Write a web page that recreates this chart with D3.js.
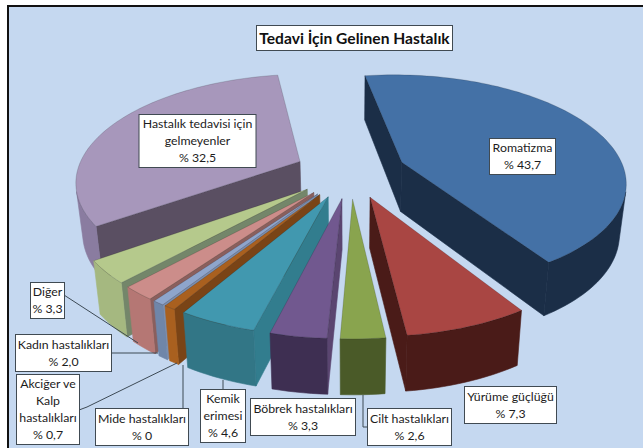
<!DOCTYPE html>
<html><head><meta charset="utf-8">
<script src="https://cdn.jsdelivr.net/npm/d3@7/dist/d3.min.js"></script>
<style>html,body{margin:0;padding:0;background:#fff}svg{display:block}</style>
</head><body><script>
const categories = ["Romatizma","Yürüme güçlüğü","Cilt hastalıkları","Böbrek hastalıkları","Kemik erimesi","Mide hastalıkları","Akciğer ve Kalp hastalıkları","Kadın hastalıkları","Diğer","Hastalık tedavisi için gelmeyenler"];
const values = [43.7,7.3,2.6,3.3,4.6,0.7,0.7,2.0,3.3,32.5];
const valueLabels = ["% 43,7","% 7,3","% 2,6","% 3,3","% 4,6","% 0","% 0,7","% 2,0","% 3,3","% 32,5"];
const labelLines = [["Romatizma"],["Yürüme güçlüğü"],["Cilt hastalıkları"],["Böbrek hastalıkları"],["Kemik","erimesi"],["Mide hastalıkları"],["Akciğer ve","Kalp","hastalıkları"],["Kadın hastalıkları"],["Diğer"],["Hastalık tedavisi için","gelmeyenler"]];
const title = "Tedavi İçin Gelinen Hastalık";

const topColors  = ["#4471a6","#a94643","#89a44e","#71588f","#4198af","#a9601f","#8ea5cc","#cc8d8a","#b5c98c","#a797bb"];
const arcColors  = ["#1b2e47","#4a1b18","#4a5a28","#3e2f52","#327686","#a9601f","#6f86a9","#b57774","#a5b880","#8a7ca0"];
const wallColors = ["#1b2e47","#4a1b18","#4a5a28","#5a4570","#327d8e","#7a4416","#7b8fb0","#8a5f5d","#74866a","#5a4f62"];
// label boxes: x, y, w, h
const boxes = [[489,138,66,36],[464,386,92,37],[367,408,84,37],[250,398,105,37],[200,389,45,53],[95,408,93,37],[16,374,63,70],[15,334,96,37],[30,282,34,36],[138.5,114,117,53]];
const leaders = [null,null,[[363,395],[363,427],[367,427]],null,[[223,389],[223,380]],[[183,408],[183,365]],[[79,410],[87,407],[177,363]],[[111,353],[158,353]],[[64,295],[138,343]],null];

const W=643,H=448;
const svg=d3.select("body").append("svg").attr("width",W).attr("height",H);
const fontFam="Lato, 'Open Sans', sans-serif";
svg.append("rect").attr("width",W).attr("height",H).attr("fill","#fff");
svg.append("rect").attr("x",8).attr("y",6).attr("width",W-8).attr("height",H-6).attr("fill","#c5d8f0");
svg.append("path").attr("d",`M8,${H}V6H${W}`).attr("fill","none").attr("stroke","#111").attr("stroke-width",2);

// perspective projection of the unit-radius pie plane
const ox=350.5, oy=171.5, A=223, B=105.3, p=0.171, explode=0.25;
const project=(X,Y)=>{const w=1-p*Y; return [ox+A*X/w, oy+B*Y/w];};
const dropX=d3.scaleLinear().domain([ox-100,ox+100]).range([ox-97.5,ox+97.5]);
const depth=d3.scaleLinear().domain([-1,1.3]).range([44.5,56.2]);
const drop=(X,Y)=>{const q=project(X,Y); return [dropX(q[0]), q[1]+depth(Y)];};

const start=-9*Math.PI/180;
const arcs=d3.pie().sort(null).startAngle(start).endAngle(start+2*Math.PI)(values);
const line=d3.line();
const g=svg.append("g");

const slices=arcs.map((a,i)=>{
  const mid=(a.startAngle+a.endAngle)/2;
  const dx=Math.sin(mid)*explode, dy=-Math.cos(mid)*explode;
  const n=Math.max(2,Math.ceil((a.endAngle-a.startAngle)/0.03));
  const ang=d3.range(n+1).map(k=>a.startAngle+(a.endAngle-a.startAngle)*k/n);
  const rim=ang.map(t=>[dx+Math.sin(t),dy-Math.cos(t)]);
  return {i,dx,dy,rim,order:dy};
}).sort((u,v)=>u.order-v.order);

const facing=(a,b)=>{ // outward-facing wall test between two plane points, walking clockwise
  const q=[project(...a),project(...b),drop(...b),drop(...a)];
  return d3.polygonArea(q)>0;
};
slices.forEach(s=>{
  const {i,dx,dy,rim}=s, apex=[dx,dy];
  const wall=(a,b,c)=>{
    const q=[project(...a),project(...b),drop(...b),drop(...a)];
    g.append("path").attr("d",line(q)+"Z").attr("fill",c).attr("stroke",c).attr("stroke-width",0.6);
  };
  const endA=rim[0], endB=rim[rim.length-1];
  if(facing(apex,endA)) wall(apex,endA,wallColors[i]);
  if(facing(endB,apex)) wall(endB,apex,wallColors[i]);
  // outer curved wall: the contiguous facing part of the rim
  const vis=[];
  for(let k=0;k<rim.length-1;k++) if(facing(rim[k],rim[k+1])) vis.push(k);
  if(vis.length){
    const pts=rim.slice(vis[0],vis[vis.length-1]+2);
    const poly=pts.map(q=>project(...q)).concat(pts.slice().reverse().map(q=>drop(...q)));
    g.append("path").attr("d",line(poly)+"Z").attr("fill",arcColors[i]).attr("stroke",arcColors[i]).attr("stroke-width",0.6);
  }
  const topPoly=[apex,...rim].map(q=>project(...q));
  g.append("path").attr("class","top").attr("d",line(topPoly)+"Z").attr("fill",topColors[i]).attr("stroke","#000").attr("stroke-opacity",0.25).attr("stroke-width",0.6);
});

// leaders
const lg=svg.append("g");
leaders.forEach(l=>{ if(l) lg.append("path").attr("d",line(l)).attr("fill","none").attr("stroke","#3d4a55").attr("stroke-width",1); });

// labels
const lab=svg.append("g").attr("font-family",fontFam).attr("font-size",12.3).attr("fill","#1c1c1c").attr("text-anchor","middle");
categories.forEach((c,i)=>{
  const [x,y,w,h]=boxes[i];
  lab.append("rect").attr("x",x+.5).attr("y",y+.5).attr("width",w).attr("height",h).attr("fill","#fff").attr("stroke","#404a52").attr("stroke-width",1);
  const lines=[...labelLines[i],valueLabels[i]];
  const lh=17;
  const y0=y+h/2-(lines.length-1)*lh/2+4.5;
  const t=lab.append("text");
  lines.forEach((s,k)=>t.append("tspan").attr("x",x+w/2+.5).attr("y",y0+k*lh).text(s));
});
// title
svg.append("rect").attr("x",256.5).attr("y",25.5).attr("width",196).attr("height",25).attr("fill","#fff").attr("stroke","#404a52");
svg.append("text").attr("x",354.5).attr("y",43.5).attr("text-anchor","middle").attr("font-family",fontFam).attr("font-weight",700).attr("font-size",15.6).attr("fill","#111").text(title);
</script></body></html>
